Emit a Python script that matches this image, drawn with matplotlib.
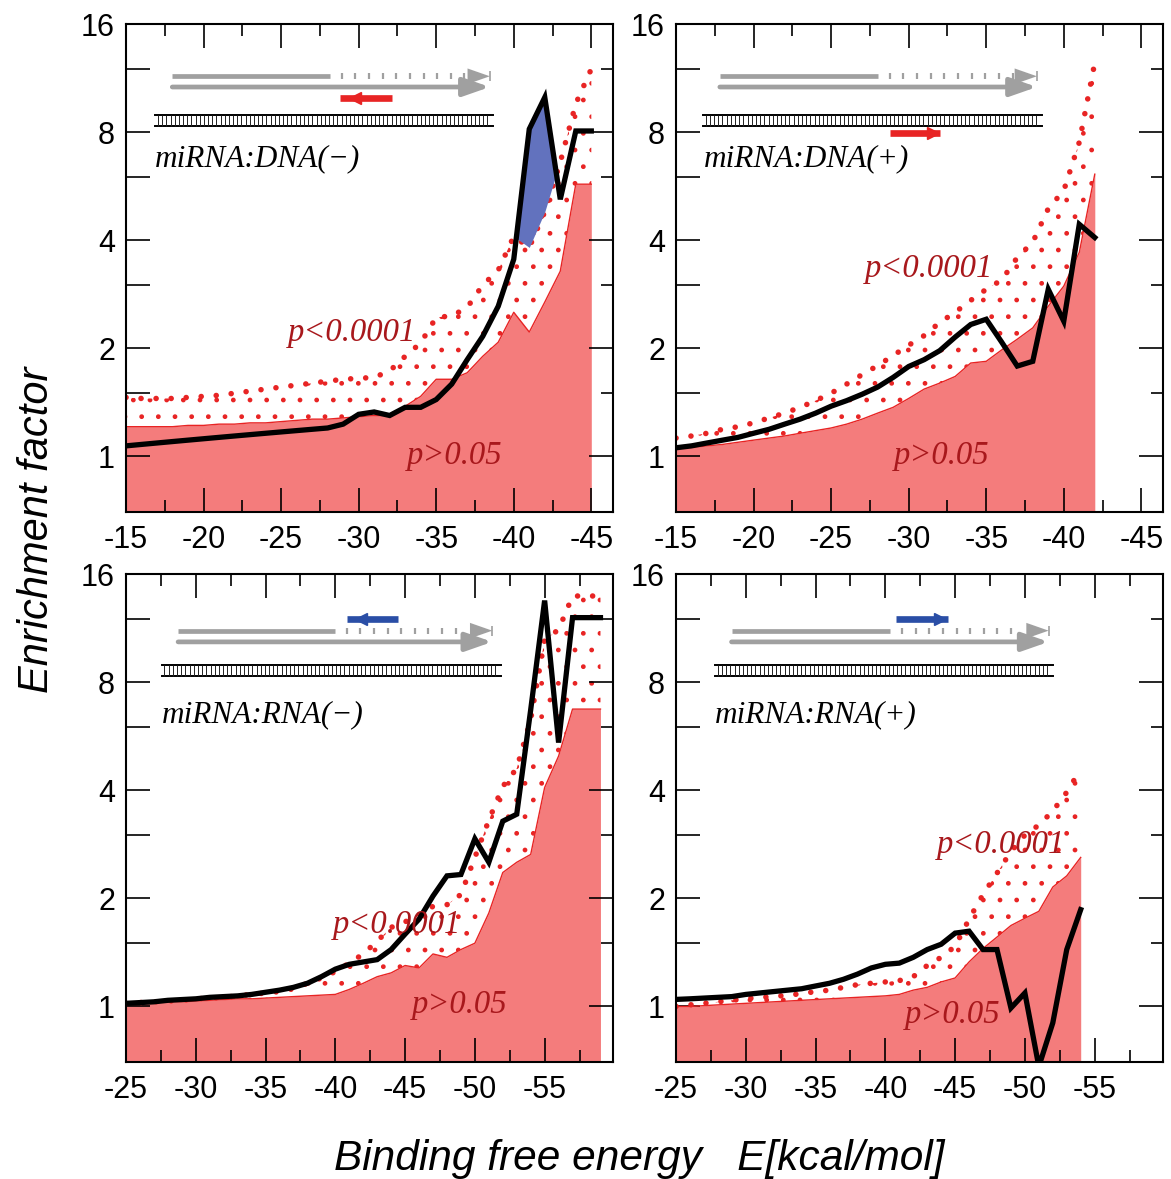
import matplotlib.pyplot as plt
import numpy as np
from matplotlib.collections import LineCollection
from matplotlib.ticker import NullLocator

plt.rcParams['font.family'] = ['Liberation Sans', 'DejaVu Sans']

# ---- data (binding free energy bins, enrichment factors) ----
e_dna_minus = np.arange(-15, -46, -1)
black_dna_minus = [1.07, 1.08, 1.09, 1.10, 1.11, 1.12, 1.13, 1.14, 1.15, 1.16, 1.17, 1.18, 1.19, 1.20,
                   1.23, 1.31, 1.33, 1.30, 1.37, 1.37, 1.44, 1.59, 1.86, 2.16, 2.62, 3.54, 8.16, 10.0,
                   5.2, 8.06, 8.06]
p05_dna_minus = [1.21, 1.21, 1.21, 1.21, 1.22, 1.22, 1.23, 1.23, 1.24, 1.24, 1.25, 1.26, 1.27, 1.27,
                 1.28, 1.29, 1.30, 1.30, 1.38, 1.47, 1.64, 1.64, 1.71, 1.90, 2.08, 2.52, 2.22, 2.69,
                 3.28, 5.73, 5.73]
p0001_dna_minus = [1.46, 1.45, 1.45, 1.45, 1.46, 1.47, 1.48, 1.50, 1.52, 1.54, 1.56, 1.58, 1.60, 1.62,
                   1.64, 1.65, 1.66, 1.73, 1.90, 2.07, 2.44, 2.46, 2.60, 3.0, 3.3, 4.1, 3.82, 4.8,
                   6.6, 9.6, 12.0]

e_dna_plus = np.arange(-15, -43, -1)
black_dna_plus = [1.057, 1.07, 1.09, 1.11, 1.13, 1.16, 1.19, 1.23, 1.27, 1.32, 1.38, 1.43, 1.49, 1.56,
                  1.66, 1.78, 1.86, 1.97, 2.15, 2.33, 2.41, 2.08, 1.785, 1.84, 2.92, 2.38, 4.43, 4.07]
p05_dna_plus = [1.05, 1.06, 1.07, 1.08, 1.095, 1.11, 1.125, 1.14, 1.16, 1.18, 1.20, 1.23, 1.27, 1.32,
                1.37, 1.45, 1.54, 1.60, 1.67, 1.82, 1.84, 1.98, 2.12, 2.28, 2.62, 2.98, 3.70, 6.11]
p0001_dna_plus = [1.125, 1.14, 1.16, 1.19, 1.21, 1.24, 1.28, 1.32, 1.37, 1.43, 1.50, 1.59, 1.69, 1.79,
                  1.91, 2.04, 2.17, 2.36, 2.52, 2.72, 2.92, 3.1, 3.58, 3.95, 4.9, 5.5, 7.5, 12.5]

e_rna_minus = np.arange(-25, -60, -1)
black_rna_minus = [1.02, 1.025, 1.03, 1.04, 1.045, 1.05, 1.06, 1.065, 1.07, 1.08, 1.095, 1.11, 1.13,
                   1.16, 1.21, 1.27, 1.31, 1.33, 1.35, 1.44, 1.59, 1.75, 2.03, 2.31, 2.33, 2.93, 2.52,
                   3.28, 3.43, 6.7, 13.5, 5.43, 12.1, 12.1, 12.1]
p05_rna_minus = [1.02, 1.02, 1.025, 1.03, 1.03, 1.035, 1.04, 1.045, 1.05, 1.05, 1.055, 1.06, 1.065,
                 1.07, 1.075, 1.08, 1.115, 1.16, 1.21, 1.24, 1.30, 1.28, 1.40, 1.37, 1.44, 1.50, 1.82,
                 2.36, 2.52, 2.65, 4.07, 4.98, 6.73, 6.73, 6.73]
p0001_rna_minus = [1.02, 1.025, 1.03, 1.035, 1.04, 1.05, 1.055, 1.06, 1.07, 1.08, 1.09, 1.10, 1.12,
                   1.16, 1.20, 1.25, 1.32, 1.40, 1.52, 1.66, 1.72, 1.80, 1.90, 1.92, 2.05, 2.6, 3.3,
                   4.1, 4.6, 6.3, 10.5, 11.2, 13.9, 13.9, 13.9]

e_rna_plus = np.arange(-25, -55, -1)
black_rna_plus = [1.046, 1.05, 1.055, 1.06, 1.065, 1.08, 1.09, 1.10, 1.11, 1.12, 1.14, 1.16, 1.19, 1.23,
                  1.28, 1.31, 1.32, 1.37, 1.44, 1.49, 1.60, 1.62, 1.44, 1.44, 0.99, 1.09, 0.68, 0.90,
                  1.44, 1.86]
p05_rna_plus = [1.0, 1.0, 1.005, 1.01, 1.015, 1.02, 1.025, 1.03, 1.035, 1.04, 1.045, 1.05, 1.055, 1.06,
                1.065, 1.07, 1.08, 1.11, 1.13, 1.17, 1.20, 1.33, 1.45, 1.56, 1.68, 1.76, 1.84, 2.15,
                2.31, 2.60]
p0001_rna_plus = [1.0, 1.01, 1.02, 1.03, 1.04, 1.05, 1.06, 1.065, 1.075, 1.085, 1.10, 1.11, 1.13, 1.15,
                  1.16, 1.17, 1.18, 1.21, 1.30, 1.37, 1.47, 1.75, 2.05, 2.35, 2.7, 3.0, 3.2, 3.5,
                  3.95, 4.58]

titles = ['miRNA:DNA(\u2212)', 'miRNA:DNA(+)', 'miRNA:RNA(\u2212)', 'miRNA:RNA(+)']
xticks_top = [-15, -20, -25, -30, -35, -40, -45]
xticks_bottom = [-25, -30, -35, -40, -45, -50, -55]
yticks = [1, 2, 4, 8, 16]
yticks_minor = [1.5, 3, 6, 12]

RED = '#e82424'
FILL = '#f47c7c'
PTXT = '#a8181c'
GRAY = '#a0a0a0'


def cartoon(ax, lad, gray, arr, arr_y, arr_col, pointing):
    # DNA/RNA ladder
    x0, x1 = lad
    for y in (0.814, 0.791):
        ax.plot([x0, x1], [y, y], color='k', lw=1.4, transform=ax.transAxes, clip_on=False)
    xs = np.linspace(x0 + 0.006, x1 - 0.012, 80)
    segs = [[(x, 0.792), (x, 0.813)] for x in xs]
    ax.add_collection(LineCollection(segs, colors='#222222', linewidths=0.7,
                                     transform=ax.transAxes), autolim=False)
    # gray strands
    g0, gsplit, gdot, gtip, gy1, gy2 = gray
    ax.plot([g0, gsplit], [gy1, gy1], color=GRAY, lw=3.4, solid_capstyle='butt',
            transform=ax.transAxes)
    tx = np.arange(gsplit + 0.024, gdot, 0.028)
    ax.plot(tx, [gy1] * len(tx), ls='none', marker='|', ms=4, mew=1.6, color=GRAY,
            transform=ax.transAxes)
    for y, start in ((gy1, gtip - 0.04), (gy2, g0)):
        ax.annotate('', xy=(gtip, y), xytext=(start, y), xycoords='axes fraction',
                    arrowprops=dict(arrowstyle='-|>,head_length=1.0,head_width=0.35',
                                    mutation_scale=16, color=GRAY,
                                    lw=3.4 if start == g0 else 0.01,
                                    shrinkA=0, shrinkB=0))
    ax.plot([gtip], [gy1], marker='|', ms=7, mew=1.2, color=GRAY, transform=ax.transAxes)
    # colored probe arrow
    a0, a1 = arr
    ax.plot([a0, a1], [arr_y, arr_y], color=arr_col, lw=4.8, solid_capstyle='butt',
            transform=ax.transAxes)
    if pointing == 'left':
        ax.plot([a0 + 0.03], [arr_y], marker='<', ms=9, color=arr_col, mec=arr_col,
                transform=ax.transAxes)
    else:
        ax.plot([a1 - 0.015], [arr_y], marker='>', ms=9, color=arr_col, mec=arr_col,
                transform=ax.transAxes)


def panel(ax, e, black, lo, hi, xlim, xticks, title, tpos, plt_pos, pgt_pos, blue=False):
    black = np.array(black)
    lo = np.array(lo)
    hi = np.array(hi)
    ax.fill_between(e, 0.3, lo, color=FILL, lw=0, zorder=1)
    ax.plot(e, lo, color=RED, lw=1.0, zorder=2)
    ax.fill_between(e, lo, hi, facecolor='none', edgecolor=RED, hatch='.', lw=0, zorder=1)
    ax.plot(e, hi, color=RED, lw=4.0, ls=(0, (0.01, 2.7)), dash_capstyle='round', zorder=2)
    if blue:
        ax.fill_between(e, hi, black, where=black > hi, interpolate=True,
                        color='#6272be', lw=0, zorder=2)
    ax.plot(e, black, color='k', lw=3.8, solid_joinstyle='miter', zorder=4)

    ax.text(plt_pos[0], plt_pos[1], 'p<0.0001', family='Liberation Serif', style='italic',
            fontsize=23.5, color=PTXT, ha='center', va='baseline', zorder=5)
    ax.text(pgt_pos[0], pgt_pos[1], 'p>0.05', family='Liberation Serif', style='italic',
            fontsize=23.5, color=PTXT, ha='center', va='baseline', zorder=5)
    ax.text(tpos[0], tpos[1], title, transform=ax.transAxes, family='Liberation Serif',
            style='italic', fontsize=22.5, ha='left', va='baseline')

    ax.set_yscale('log', base=2)
    ax.set_ylim(0.70, 16)
    ax.set_xlim(*xlim)
    ax.set_xticks(xticks)
    ax.set_xticklabels([str(t) for t in xticks])
    ax.set_xticks(np.arange(xticks[0] - 2.5, xlim[1], -5), minor=True)
    alltk = sorted(yticks + yticks_minor)
    ax.set_yticks(alltk)
    ax.set_yticklabels([str(t) if t in yticks else '' for t in alltk])
    ax.yaxis.set_minor_locator(NullLocator())
    ax.tick_params(axis='x', which='both', direction='in', top=True, bottom=True, width=1.2)
    ax.tick_params(axis='x', which='major', length=17, labelsize=22, pad=9)
    ax.tick_params(axis='x', which='minor', length=8.5)
    ax.tick_params(axis='y', which='major', direction='in', left=True, right=False,
                   length=17, width=1.2, labelsize=22, pad=8)
    for s in ax.spines.values():
        s.set_linewidth(1.5)

    ax2 = ax.twinx()
    ax2.set_yscale('log', base=2)
    ax2.set_ylim(0.70, 16)
    ax2.set_yticks(yticks)
    ax2.set_yticks(yticks_minor, minor=True)
    ax2.tick_params(axis='y', which='both', direction='in', right=True, labelright=False, width=1.2)
    ax2.tick_params(axis='y', which='major', length=17)
    ax2.tick_params(axis='y', which='minor', length=8.5)
    ax2.yaxis.set_minor_formatter(plt.NullFormatter())
    for s in ax2.spines.values():
        s.set_visible(False)
    return ax


fig = plt.figure(figsize=(11.71, 11.79), dpi=100)
W, H = 0.4159, 0.4139
ax_tl = fig.add_axes([0.1076, 0.5657, W, H])
ax_tr = fig.add_axes([0.5773, 0.5657, W, H])
ax_bl = fig.add_axes([0.1076, 0.0992, W, H])
ax_br = fig.add_axes([0.5773, 0.0992, W, H])

panel(ax_tl, e_dna_minus, black_dna_minus, p05_dna_minus, p0001_dna_minus, (-15, -46.4),
      xticks_top, titles[0], (0.06, 0.708), (-29.6, 2.10), (-36.2, 0.95), blue=True)
panel(ax_tr, e_dna_plus, black_dna_plus, p05_dna_plus, p0001_dna_plus, (-15, -46.4),
      xticks_top, titles[1], (0.057, 0.708), (-31.3, 3.15), (-32.1, 0.95))
panel(ax_bl, e_rna_minus, black_rna_minus, p05_rna_minus, p0001_rna_minus, (-25, -59.9),
      xticks_bottom, titles[2], (0.073, 0.697), (-44.4, 1.605), (-48.9, 0.96))
panel(ax_br, e_rna_plus, black_rna_plus, p05_rna_plus, p0001_rna_plus, (-25, -59.9),
      xticks_bottom, titles[3], (0.080, 0.697), (-48.3, 2.68), (-44.8, 0.90))

cartoon(ax_tl, (0.06, 0.754), (0.095, 0.419, 0.72, 0.747, 0.893, 0.871), (0.44, 0.546), 0.848,
        RED, 'left')
cartoon(ax_tr, (0.055, 0.752), (0.090, 0.415, 0.72, 0.741, 0.893, 0.871), (0.44, 0.542), 0.777,
        RED, 'right')
cartoon(ax_bl, (0.073, 0.77), (0.107, 0.429, 0.70, 0.752, 0.884, 0.861), (0.453, 0.559), 0.907,
        '#2a4ea6', 'left')
cartoon(ax_br, (0.08, 0.774), (0.114, 0.44, 0.71, 0.765, 0.884, 0.861), (0.452, 0.558), 0.907,
        '#2a4ea6', 'right')

fig.text(0.032, 0.551, 'Enrichment factor', rotation=90, style='italic', fontsize=30,
         ha='center', va='center')
fig.text(0.546, 0.0076, 'Binding free energy   E[kcal/mol]', style='italic', fontsize=30.5,
         ha='center', va='baseline')

fig.savefig('out.png', dpi=100)
